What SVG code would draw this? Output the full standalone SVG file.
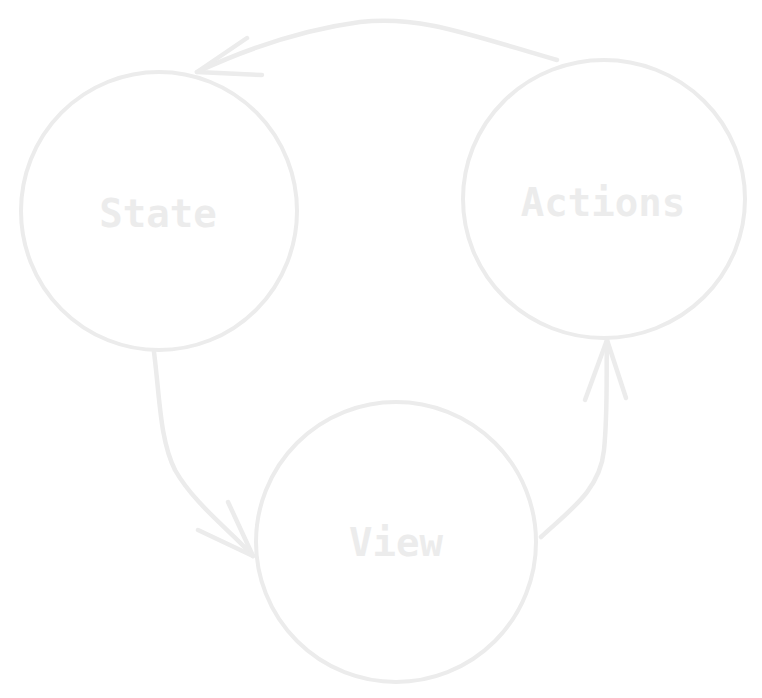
<svg xmlns="http://www.w3.org/2000/svg" width="762" height="698" viewBox="0 0 762 698">
<style>
.n{fill:none;stroke:#ececec;stroke-width:4;stroke-linecap:round}
.c{fill:none;stroke:#ececec;stroke-width:4.5;stroke-linecap:round;stroke-linejoin:round}
.t{font-family:"DejaVu Sans Mono","Liberation Mono",monospace;font-weight:bold;font-size:39px;fill:#ececec;text-anchor:middle}
</style>
<rect width="762" height="698" fill="#ffffff"/>
<g id="state">
<ellipse class="n" cx="159" cy="211" rx="138" ry="139"/>
<text class="t" x="158" y="227">State</text>
</g>
<g id="actions">
<ellipse class="n" cx="604" cy="199" rx="141" ry="139"/>
<text class="t" x="603" y="216">Actions</text>
</g>
<g id="view">
<ellipse class="n" cx="396" cy="542" rx="140" ry="140"/>
<text class="t" x="396" y="556">View</text>
</g>
<g id="connectors">
<path class="c" d="M557 60 C470 35 420 15 360 22 C300 30 240 52 197 72"/>
<path class="c" d="M247 38 L197 72 L262 75"/>
<path class="c" d="M154 352 C160 400 160 440 175 470 C195 505 230 530 253 556"/>
<path class="c" d="M228 502 L253 556 L198 530"/>
<path class="c" d="M541 537 C570 510 600 490 604 450 C608 410 606 370 607 340"/>
<path class="c" d="M585 400 L607 340 L626 398"/>
</g>
</svg>
